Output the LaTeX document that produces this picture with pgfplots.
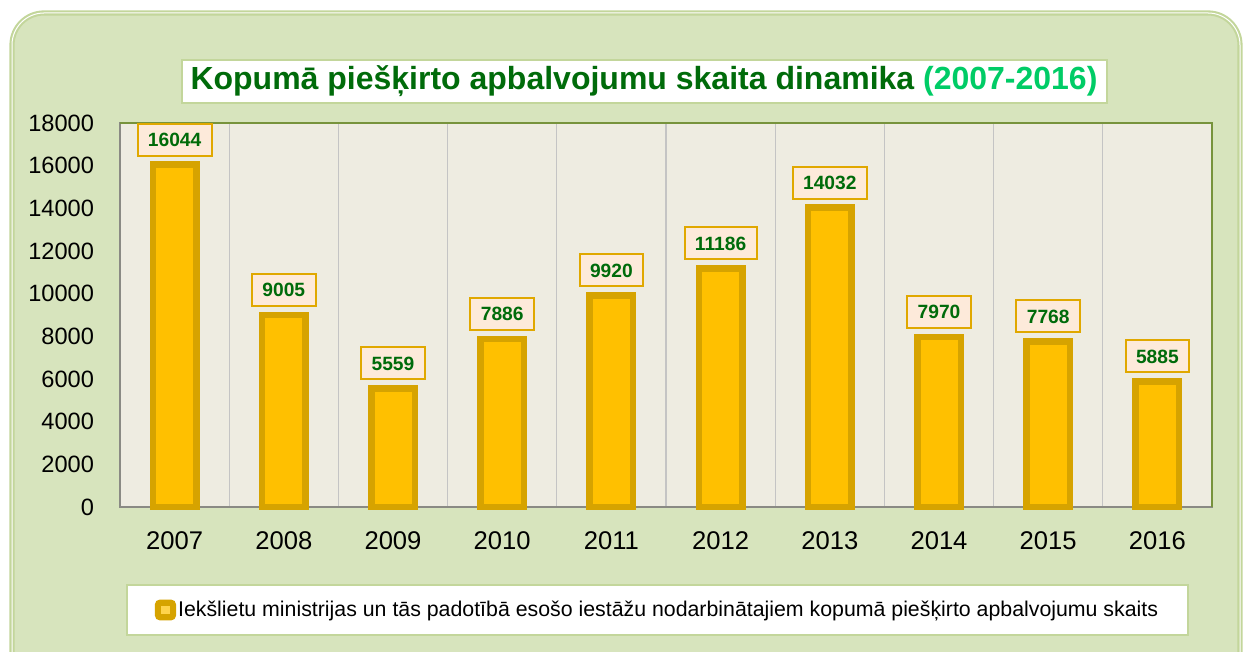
\documentclass[border=0pt]{standalone}
\usepackage{pgfplots}
\pgfplotsset{compat=1.18}
\usepackage{fontspec}
\setmainfont{Liberation Sans}
\definecolor{bg}{HTML}{D7E4BD}
\definecolor{bordg}{HTML}{C3D69B}
\definecolor{plotbg}{HTML}{EEECE1}
\definecolor{barfill}{HTML}{FFC000}
\definecolor{barborder}{HTML}{D6A300}
\definecolor{gridc}{HTML}{C4C4C4}
\definecolor{axgray}{HTML}{8A8A84}
\definecolor{axolive}{HTML}{77933C}
\definecolor{tgreen}{HTML}{006B0A}
\definecolor{tbright}{HTML}{00CC66}
\definecolor{lblfill}{HTML}{FDEADA}
\definecolor{lblborder}{HTML}{E0A800}
\begin{document}
\begin{tikzpicture}
\useasboundingbox (0pt,0pt) rectangle (625pt,326pt);
\begin{scope}
\clip (0pt,0pt) rectangle (625pt,326pt);
\draw[line width=2.6pt, draw=bordg, fill=bg, rounded corners=16pt] (6pt,-20pt) rectangle (620pt,319.5pt);
\draw[line width=0.5pt, draw=white, rounded corners=16pt] (6pt,-20pt) rectangle (620pt,319.5pt);
\end{scope}
\node[fill=white, draw=bordg, line width=1pt, minimum width=462.5pt, minimum height=21.5pt, inner sep=0pt,
  font=\bfseries\fontsize{16}{18}\selectfont] at (322pt,285.25pt)
  {\textcolor{tgreen}{Kopumā piešķirto apbalvojumu skaita dinamika} \textcolor{tbright}{(2007-2016)}};
\begin{axis}[at={(60pt,72.5pt)}, anchor=south west, width=546pt, height=192pt, scale only axis,
  clip=false,
  ymin=0, ymax=18000, xmin=-0.5, xmax=9.5,
  ytick={0,2000,...,18000},
  xtick={0,...,9},
  xticklabels={2007,2008,2009,2010,2011,2012,2013,2014,2015,2016},
  minor xtick={0.5,1.5,...,8.5},
  xminorgrids,
  minor grid style={draw=gridc, line width=0.6pt},
  major tick length=0pt, minor tick length=0pt,
  axis background/.style={fill=plotbg},
  axis line style={draw=axgray, line width=1pt},
  yticklabel style={font=\fontsize{11.8}{12}\selectfont, xshift=-9.5pt},
  xticklabel style={font=\fontsize{12.8}{14}\selectfont, yshift=-9pt},
  scaled y ticks=false,
  /pgf/number format/assume math mode=true,
  /pgf/number format/1000 sep={},
  legend style={at={(0.4922,-0.2682)}, anchor=center, draw=bordg, fill=white, line width=1pt,
    inner xsep=14pt, inner ysep=6pt, font=\fontsize{10.66}{12}\selectfont,
    nodes={inner xsep=1pt}},
  legend image code/.code={
    \fill[barborder, rounded corners=1.2pt] (0pt,-3.6pt) rectangle (7.4pt,3.6pt);
    \fill[barfill!70!white] (3.1pt,-0.6pt) rectangle (4.3pt,0.6pt);
  },
]
\addplot[ybar, bar width=21.75pt, fill=barfill, draw=barborder, line width=3.25pt,
  nodes near coords,
  nodes near coords style={anchor=south, yshift=4pt, fill=lblfill, draw=lblborder, line width=1pt,
    font=\bfseries\fontsize{9.6}{10}\selectfont, text=tgreen, inner xsep=5.2pt, inner ysep=4.5pt,
    text height=7pt, text depth=0pt}]
coordinates {(0,16044) (1,9005) (2,5559) (3,7886) (4,9920) (5,11186) (6,14032) (7,7970) (8,7768) (9,5885)};
\addlegendentry{Iekšlietu ministrijas un tās padotībā esošo iestāžu nodarbinātajiem kopumā piešķirto apbalvojumu skaits}
\draw[axolive, line width=1.2pt] (rel axis cs:0,1) -- (rel axis cs:1,1) -- (rel axis cs:1,0);
\end{axis}
\end{tikzpicture}
\end{document}
